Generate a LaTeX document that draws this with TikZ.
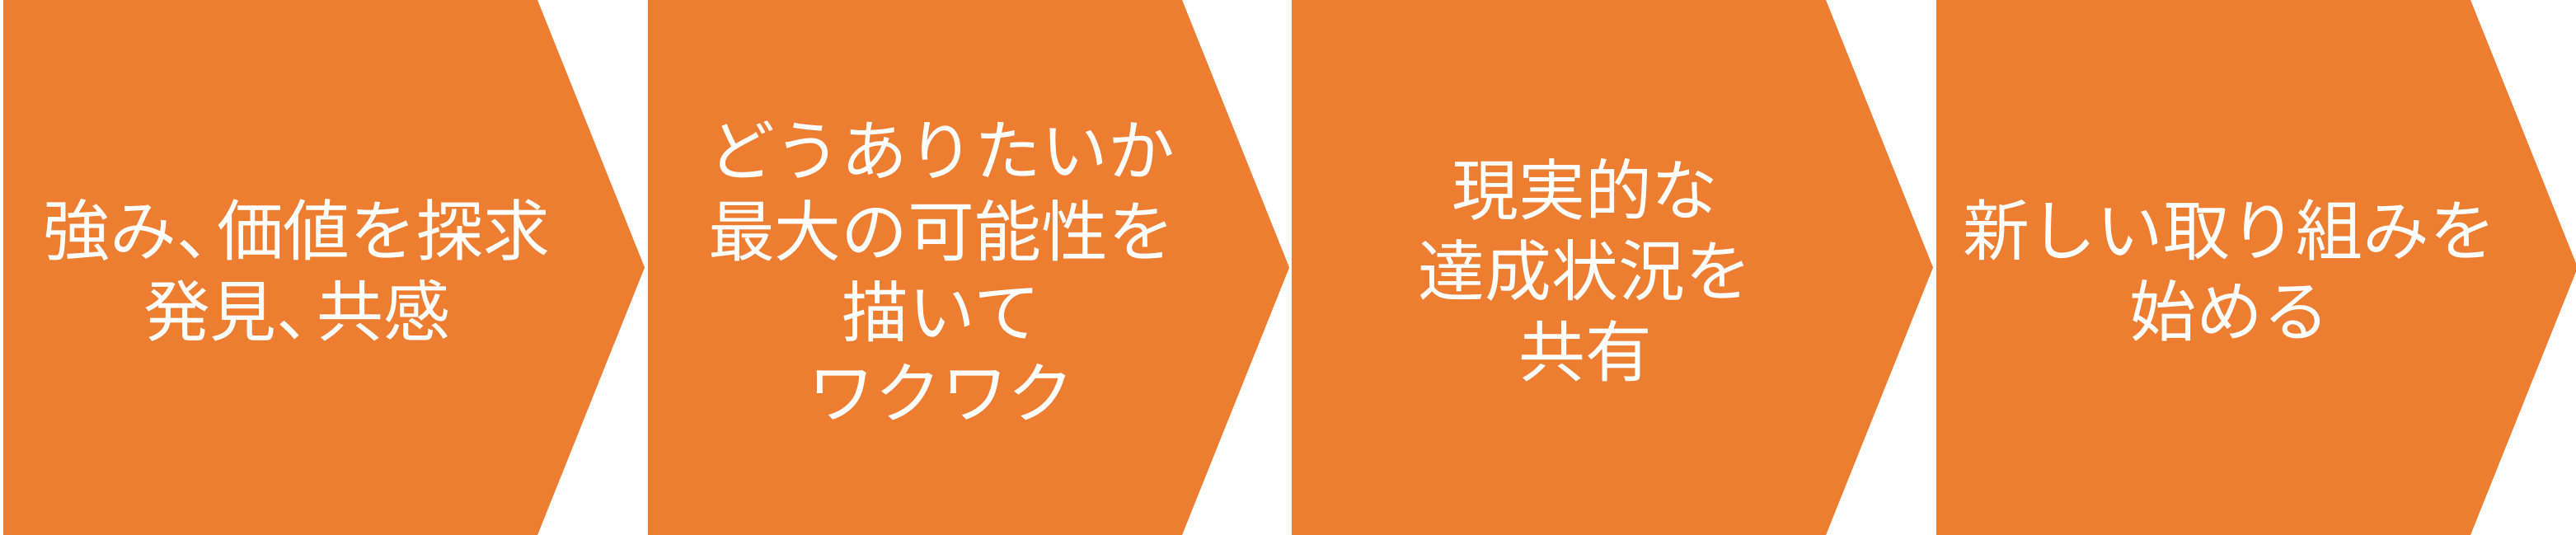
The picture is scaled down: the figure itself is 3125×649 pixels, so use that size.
\documentclass[tikz,border=0pt]{standalone}
\usepackage{fontspec}
\newfontfamily\jpfont{Noto Sans CJK JP}
\definecolor{chevorange}{HTML}{ED7D31}
\newcommand{\jpcomma}{\makebox[0.6em][l]{、}}
\tikzset{
  chevron/.style={fill=chevorange,draw=none},
  steptext/.style={text=white,align=center,
    font=\jpfont\fontsize{23}{27.9}\selectfont}
}

\begin{document}
\begin{tikzpicture}[x=0.1mm,y=-0.1mm]
  \useasboundingbox (0,0) rectangle (3125,649);
  \fill[chevron] (4,0) -- +(648,0) -- +(778,324.5) -- +(648,649) -- +(0,649) -- cycle;
  \fill[chevron] (786,0) -- +(648,0) -- +(778,324.5) -- +(648,649) -- +(0,649) -- cycle;
  \fill[chevron] (1567,0) -- +(648,0) -- +(778,324.5) -- +(648,649) -- +(0,649) -- cycle;
  \fill[chevron] (2349,0) -- +(648,0) -- +(778,324.5) -- +(648,649) -- +(0,649) -- cycle;
  \node[steptext] (explore) at (360,328)
    {強み\jpcomma 価値を探求\\発見\jpcomma 共感};
  \node[steptext] (vision) at (1142,328)
    {どうありたいか\\最大の可能性を\\描いて\\ワクワク};
  \node[steptext] (share) at (1923,328)
    {現実的な\\達成状況を\\共有};
  \node[steptext] (start) at (2705,328)
    {新しい取り組みを\\始める};
\end{tikzpicture}
\end{document}
